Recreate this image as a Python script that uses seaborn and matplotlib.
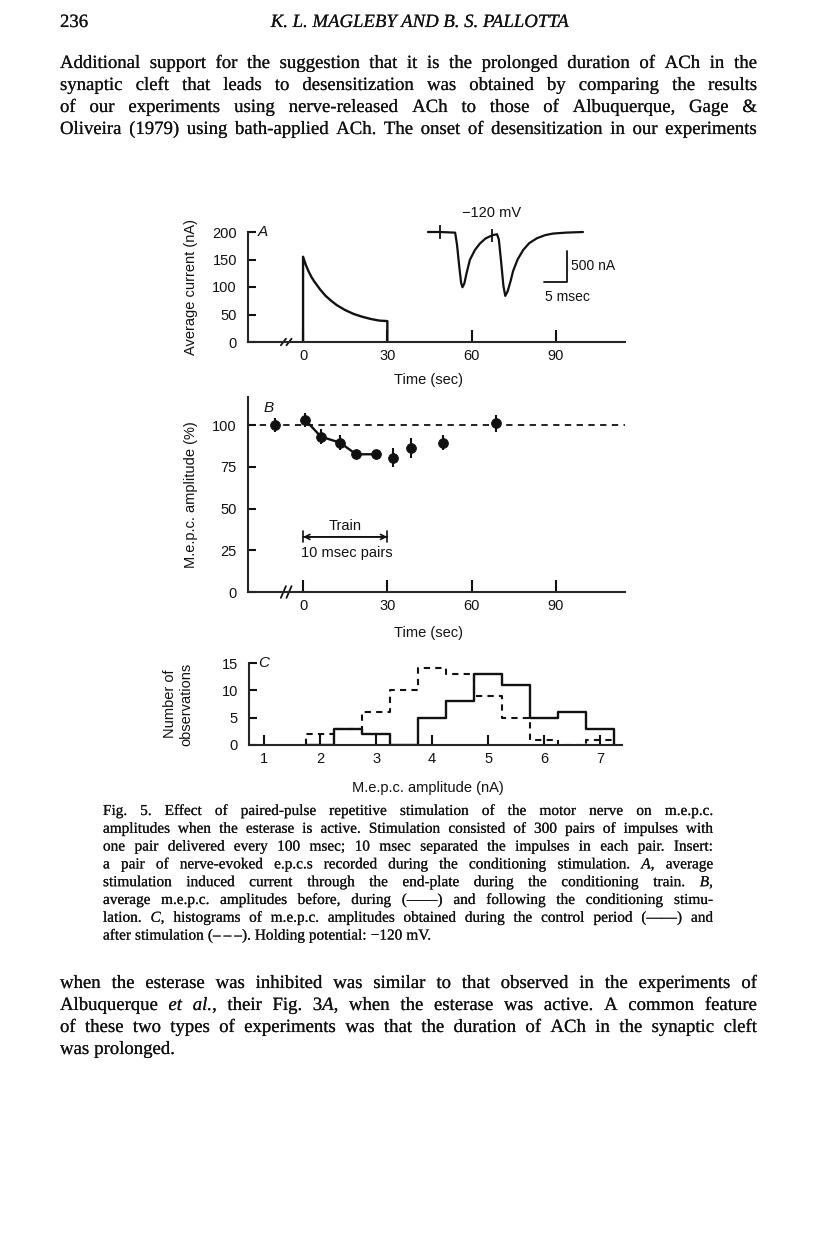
import matplotlib
matplotlib.use("Agg")
import matplotlib.pyplot as plt
import matplotlib.patheffects as pe
import seaborn as sns

W, H = 816, 1243

# ---- panel A: average current during the conditioning train (nA vs sec)
time_a = [0, 0, 1, 2, 3, 4, 6, 8, 10, 12, 15, 18, 21, 24, 27, 30, 30]
current_a = [0, 155, 140, 128, 118, 110, 96, 84, 75, 67, 58, 51, 46, 42, 39, 38, 0]

# insert: pair of nerve-evoked e.p.c.s (msec, nA)
insert_ms = [0, 2.6, 5.9, 6.3, 6.8, 7.2, 7.5, 7.9, 8.4, 9.1, 10.2, 11.3, 12.5, 13.9, 15.0,
             15.4, 15.9, 16.4, 16.8, 17.3, 18.0, 18.5, 19.5, 20.7, 22.0, 23.7, 25.5, 27.2, 30.0, 33.7]
insert_na = [0, 0, -10, -200, -560, -820, -890, -830, -660, -450, -290, -185, -105, -55, -35,
             -120, -480, -870, -1030, -960, -780, -630, -440, -290, -180, -100, -50, -25, -10, 0]
artifact_ms = [2.6, 13.9]
artifact_na = [0, -55]

# ---- panel B: m.e.p.c. amplitude (%)
time_b = [-9.9, 0.8, 6.4, 13.1, 18.9, 25.8, 32.1, 38.3, 49.9, 68.7]
amp_b = [100, 103, 93, 89.5, 82.5, 82.5, 80.5, 86, 89.5, 101]
err_b = [4.3, 4, 4.5, 4.5, 2.5, 2.5, 5.5, 6, 4.5, 5.3]
train_first, train_last = 1, 5

# ---- panel C: histograms of m.e.p.c. amplitude
bin_edges = [1.75, 2.25, 2.75, 3.25, 3.75, 4.25, 4.75, 5.25, 5.75, 6.25, 6.75, 7.25]
control_counts = [0, 3, 2, 0, 5, 8, 13, 11, 5, 6, 3]
after_counts = [2, 3, 6, 10, 14, 13, 9, 5, 1, 0, 1]

header_left = "236"
header_title = "K. L. MAGLEBY AND B. S. PALLOTTA"
para1 = [
    "Additional support for the suggestion that it is the prolonged duration of ACh in the",
    "synaptic cleft that leads to desensitization was obtained by comparing the results",
    "of our experiments using nerve-released ACh to those of Albuquerque, Gage &",
    "Oliveira (1979) using bath-applied ACh. The onset of desensitization in our experiments",
]
caption = [
    "Fig. 5. Effect of paired-pulse repetitive stimulation of the motor nerve on m.e.p.c.",
    "amplitudes when the esterase is active. Stimulation consisted of 300 pairs of impulses with",
    "one pair delivered every 100 msec; 10 msec separated the impulses in each pair. Insert:",
    "a pair of nerve-evoked e.p.c.s recorded during the conditioning stimulation. *A*, average",
    "stimulation induced current through the end-plate during the conditioning train. *B*,",
    "average m.e.p.c. amplitudes before, during (——) and following the conditioning stimu-",
    "lation. *C*, histograms of m.e.p.c. amplitudes obtained during the control period (——) and",
    "after stimulation (–\u2009–\u2009–). Holding potential: −120 mV.",
]
para2 = [
    "when the esterase was inhibited was similar to that observed in the experiments of",
    "Albuquerque *et al.*, their Fig. 3*A*, when the esterase was active. A common feature",
    "of these two types of experiments was that the duration of ACh in the synaptic cleft",
    "was prolonged.",
]

sns.set_style("ticks")
plt.rcParams["font.family"] = ["Liberation Sans", "DejaVu Sans"]
plt.rcParams["axes.linewidth"] = 1.5
INK = "#111111"
SERIF = ["Liberation Serif", "DejaVu Serif"]
HEAVY = [pe.withStroke(linewidth=0.1, foreground=INK)]


def rect(left, top, right, bottom):
    return [left / W, 1 - bottom / H, (right - left) / W, (bottom - top) / H]


fig = plt.figure(figsize=(W / 100, H / 100), dpi=100)
renderer = fig.canvas.get_renderer()


def text_line(y, line, x0, x1, size, justify=True):
    words = []
    italic = False
    for word in line.split(" "):
        items = []
        for k, seg in enumerate(word.split("*")):
            if k > 0:
                italic = not italic
            if seg:
                t = fig.text(0, 1 - y / H, seg, fontsize=size, family=SERIF, color=INK,
                             style="italic" if italic else "normal", va="baseline",
                             path_effects=HEAVY)
                items.append(t)
        words.append(items)
    widths = [[t.get_window_extent(renderer).width for t in it] for it in words]
    total = sum(sum(w) for w in widths)
    if justify and len(words) > 1:
        gap = (x1 - x0 - total) / (len(words) - 1)
    else:
        gap = 0.27 * size * 100 / 72
    x = x0
    for it, ws in zip(words, widths):
        for t, w in zip(it, ws):
            t.set_x(x / W)
            x += w
        x += gap


def fit_size(lines, x0, x1, size, min_gap=0.2):
    # largest size (up to `size`) where every justified line keeps a minimal word gap
    scales = []
    for line in lines:
        t = fig.text(0, 0, line.replace("*", "").replace(" ", ""), fontsize=size, family=SERIF)
        w = t.get_window_extent(renderer).width
        t.remove()
        n = line.count(" ")
        scales.append((x1 - x0) / (w + n * min_gap * size * 100 / 72))
    return size * min(1.0, min(scales))


# page header and body text
fig.text(60 / W, 1 - 27 / H, header_left, fontsize=13.5, family=SERIF, color=INK,
         va="baseline", path_effects=HEAVY)
fig.text(420 / W, 1 - 27 / H, header_title, fontsize=13.5, family=SERIF, style="italic",
         color=INK, va="baseline", ha="center", path_effects=HEAVY)

s1 = fit_size(para1 + para2[:3], 60, 757, 13.5)
for i, line in enumerate(para1):
    text_line(68 + 22 * i, line, 60, 757, s1)
for i, line in enumerate(para2):
    text_line(988 + 22 * i, line, 60, 757, s1, justify=i < len(para2) - 1)

s2 = fit_size(caption[:-1], 103, 713, 11)
for i, line in enumerate(caption):
    text_line(815 + 17.8 * i, line, 103, 713, s2, justify=i < len(caption) - 1)

LW = 1.7
TICK = 10.5


def style_axes(ax, letter, xlabel, ylabel, ylab_x, xlab_y):
    sns.despine(ax=ax)
    ax.tick_params(direction="in", width=1.5, labelsize=TICK, colors=INK)
    ax.tick_params(axis="y", length=6, pad=8)
    ax.tick_params(axis="x", length=9, pad=5)
    ax.set_xlabel(xlabel, fontsize=TICK, color=INK)
    ax.set_ylabel(ylabel, fontsize=TICK, color=INK)
    ax.yaxis.set_label_coords(ylab_x, 0.5)
    ax.xaxis.set_label_coords(0.48, xlab_y)
    ax.text(0.025, 1.0, letter, transform=ax.transAxes, fontsize=11, style="italic",
            va="center", ha="left", color=INK)


def axis_break(ax, x_break, y_span):
    for dx in (-1.0, 1.0):
        ax.plot([x_break + dx - 0.9, x_break + dx + 0.9], [-y_span, y_span],
                color=INK, lw=1.3, clip_on=False)


# ---- panel A
axA = fig.add_axes(rect(248, 232, 625, 342))
sns.lineplot(x=time_a, y=current_a, estimator=None, sort=False, color=INK, lw=LW, ax=axA)
axA.set_xlim(-19.6, 114.6)
axA.set_ylim(0, 200)
axA.set_xticks([0, 30, 60, 90])
axA.set_yticks([0, 50, 100, 150, 200])
style_axes(axA, "A", "Time (sec)", "Average current (nA)", -0.133, -0.285)
axis_break(axA, -6, 6)

# insert
axI = fig.add_axes(rect(420, 200, 600, 305))
axI.set_axis_off()
sns.lineplot(x=insert_ms, y=insert_na, estimator=None, sort=False, color=INK, lw=1.6, ax=axI)
axI.vlines(artifact_ms, [v - 110 for v in artifact_na], [v + 110 for v in artifact_na],
           color=INK, lw=1.3)
axI.set_xlim(-1.74, 37.4)
axI.set_ylim(-1177, 516)
axI.plot([25.2, 30.2, 30.2], [-806, -806, -306], color=INK, lw=1.3)
axI.text(31.2, -556, "500 nA", fontsize=10, va="center", ha="left", color=INK)
axI.text(30.4, -1040, "5 msec", fontsize=10, va="center", ha="center", color=INK)
axI.text(13.9, 306, "−120 mV", fontsize=10.5, va="center", ha="center", color=INK)

# ---- panel B
axB = fig.add_axes(rect(248, 397, 625, 592))
axB.axhline(100, color=INK, lw=1.3, ls=(0, (3.5, 3)))
sns.lineplot(x=time_b[train_first:train_last + 1], y=amp_b[train_first:train_last + 1],
             estimator=None, sort=False, color=INK, lw=LW, ax=axB)
axB.errorbar(time_b, amp_b, yerr=err_b, fmt="none", ecolor=INK, elinewidth=1.5, capsize=0)
sns.scatterplot(x=time_b, y=amp_b, s=50, color=INK, edgecolor=INK, zorder=5, ax=axB)
axB.set_xlim(-19.6, 114.6)
axB.set_ylim(0, 116.8)
axB.set_xticks([0, 30, 60, 90])
axB.set_yticks([0, 25, 50, 75, 100])
style_axes(axB, "B", "Time (sec)", "M.e.p.c. amplitude (%)", -0.133, -0.175)
axB.texts[-1].set_position((0.04, 0.945))
axis_break(axB, -6, 3.5)
axB.annotate("", xy=(30, 33), xytext=(0, 33),
             arrowprops=dict(arrowstyle="<->", color=INK, lw=1.2, shrinkA=0, shrinkB=0,
                             mutation_scale=9))
axB.annotate("", xy=(30, 33), xytext=(0, 33),
             arrowprops=dict(arrowstyle="|-|", color=INK, lw=1.2, shrinkA=0, shrinkB=0,
                             mutation_scale=4))
axB.text(15, 39.5, "Train", fontsize=TICK, ha="center", va="center", color=INK)
axB.text(15.7, 23.5, "10 msec pairs", fontsize=TICK, ha="center", va="center", color=INK)

# ---- panel C
axC = fig.add_axes(rect(249, 663, 622, 745))
step_x = [bin_edges[0]] + bin_edges
sns.lineplot(x=step_x, y=[0] + control_counts + [0], estimator=None, sort=False,
             drawstyle="steps-post", color=INK, lw=LW, ax=axC)
sns.lineplot(x=step_x, y=[0] + after_counts + [0], estimator=None, sort=False,
             drawstyle="steps-post", color=INK, lw=1.5, ax=axC)
axC.lines[-1].set_linestyle((0, (3, 2.5)))
axC.set_xlim(0.73, 7.39)
axC.set_ylim(0, 15)
axC.set_xticks([1, 2, 3, 4, 5, 6, 7])
axC.set_yticks([0, 5, 10, 15])
style_axes(axC, "C", "M.e.p.c. amplitude (nA)", "Number of\nobservations", -0.15, -0.44)
axC.tick_params(axis="x", length=7)

fig.savefig("out.png", dpi=100, facecolor="white")
